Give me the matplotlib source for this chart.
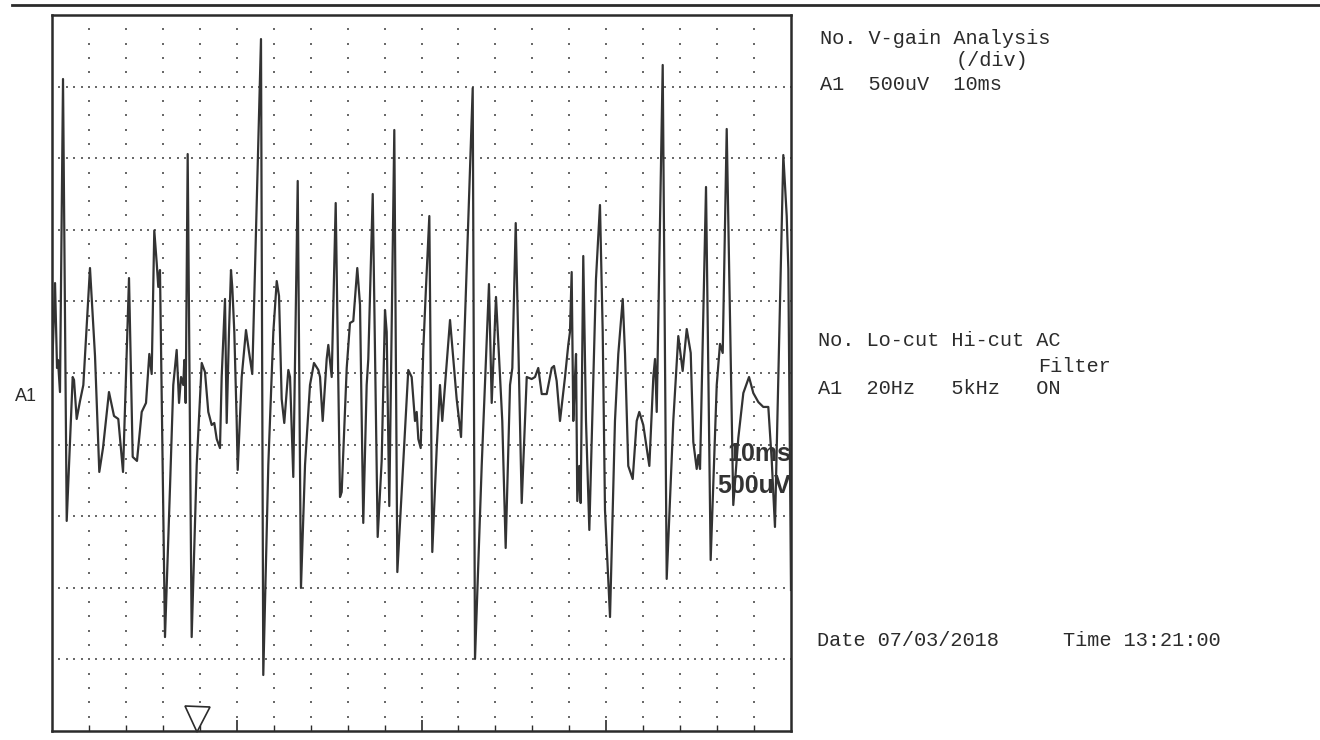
import numpy as np
import matplotlib
matplotlib.use("Agg")
import matplotlib.pyplot as plt
from matplotlib.lines import Line2D

# EMG trace A1, 10 ms/div horizontally (screen = 100 ms), 500 uV/div vertically
t_ms = [
    0.00, 0.41, 0.68, 0.81, 1.08, 1.49, 1.99, 2.80, 2.98, 3.34,
    3.79, 4.24, 5.14, 5.82, 6.40, 6.90, 7.71, 8.39, 8.97, 9.61,
    10.42, 10.92, 11.50, 12.14, 12.72, 13.17, 13.49, 13.84, 14.17, 14.38,
    14.61, 15.29, 15.97, 16.41, 16.87, 17.19, 17.46, 17.77, 17.90, 18.09,
    18.36, 18.90, 19.58, 20.26, 20.70, 21.15, 21.61, 21.96, 22.29, 22.73,
    22.96, 23.41, 23.64, 23.95, 24.22, 24.40, 24.67, 24.99, 25.13, 25.67,
    26.25, 26.66, 27.10, 28.28, 28.59, 29.27, 29.95, 30.41, 30.72, 31.08,
    31.43, 31.98, 32.21, 32.65, 33.25, 33.69, 34.24, 34.91, 35.45, 36.04,
    36.27, 36.63, 37.17, 37.39, 37.85, 38.39, 38.97, 39.20, 39.88, 40.32,
    40.77, 41.31, 41.68, 42.12, 42.58, 42.80, 43.40, 44.07, 44.61, 45.06,
    45.29, 45.64, 46.32, 46.73, 47.54, 48.21, 48.67, 49.12, 49.35, 49.57,
    49.89, 50.24, 50.61, 51.06, 51.46, 52.06, 52.50, 52.81, 53.86, 54.76,
    55.35, 56.93, 57.24, 58.15, 59.13, 59.50, 60.08, 60.93, 61.39, 61.98,
    62.29, 62.75, 63.56, 64.24, 64.91, 65.36, 65.80, 66.27, 66.94, 67.62,
    67.93, 68.29, 68.74, 69.42, 69.86, 70.09, 70.32, 70.54, 70.77, 70.91,
    71.08, 71.35, 71.54, 71.89, 72.26, 72.71, 73.61, 74.15, 74.52, 74.83,
    75.51, 76.18, 76.63, 77.23, 77.54, 77.98, 78.58, 79.12, 79.47, 80.01,
    80.83, 81.37, 81.60, 81.83, 82.64, 83.18, 84.07, 84.75, 85.34, 85.89,
    86.43, 86.78, 87.24, 87.46, 87.69, 88.50, 89.13, 89.95, 90.39, 90.76,
    91.30, 92.19, 92.87, 93.55, 94.32, 94.90, 95.58, 96.25, 96.93, 97.39,
    97.83, 98.96, 99.42, 99.64, 99.86, 100.0,
]
v_uv = [
    7, 628, 35, 91, -133, 2053, -1033, -28, -49, -321,
    -196, -84, 733, 119, -691, -524, -133, -300, -321, -691,
    663, -586, -614, -272, -209, 133, -7, 995, 768, 601,
    719, -1844, -796, -84, 161, -209, -28, -84, 91, -209,
    1529, -1844, -642, 70, 7, -272, -363, -349, -461, -524,
    -28, 517, -349, 286, 719, 594, 286, -335, -677, -28,
    300, 147, -7, 2332, -2109, -642, 286, 642, 538, -182,
    -349, 21, -28, -726, 1341, -1501, -642, -84, 70, 21,
    -28, -335, 98, 196, -28, 1187, -866, -831, 35, 349,
    363, 733, 475, -1047, -84, 98, 1250, -1145, -614, 440,
    286, -929, 1697, -1390, -614, 21, -28, -335, -272, -461,
    -524, 161, 601, 1096, -1250, -524, -84, -335, 370, -182,
    -447, 1990, -1997, -642, 621, -209, 531, -335, -1222, -84,
    35, 1047, -908, -28, -42, -28, 35, -147, -147, 35,
    49, -56, -335, -28, 196, 286, 705, -335, -28, 133,
    -894, -649, -908, 817, -335, -1096, 656, 1173, 286, -957,
    -1704, -335, 133, 517, 133, -649, -740, -335, -272, -363,
    -649, -28, 98, -272, 2151, -1438, -335, 258, 14, 307,
    140, -482, -670, -573, -670, 1299, -1306, -84, 203, 140,
    1704, -922, -454, -140, -28, -140, -203, -237, -237, -608,
    -1075, 1522, 1096, 726, -608, -1515,
]

trigger_ms = 19.6
header_rows = ["No. V-gain Analysis", "A1  500uV  10ms"]
filter_rows = ["No. Lo-cut Hi-cut AC", "A1  20Hz   5kHz   ON"]
date_str = "Date 07/03/2018"
time_str = "Time 13:21:00"

ink = "#2b2b2b"
mono = ["Liberation Mono", "DejaVu Sans Mono"]

fig = plt.figure(figsize=(13.2, 7.4), dpi=100)
W, H = 1320, 740

def fx(px):
    return px / W

def fy(py):
    return 1 - py / H

ax = fig.add_axes([fx(52), fy(731), fx(791) - fx(52), fy(15) - fy(731)])
ax.set_xlim(0, 100)
ax.set_ylim(-2500, 2500)

# dotted grid: horizontal lines every division, dot columns every half division
gx, gy = np.meshgrid(np.arange(0, 101, 1.0), np.arange(-2000, 2001, 500))
ax.scatter(gx.ravel(), gy.ravel(), s=3, marker="s", c="#6a6a6a", linewidths=0, zorder=1)
cx, cy = np.meshgrid(np.arange(5, 100, 5), np.arange(-2400, 2401, 100))
ax.scatter(cx.ravel(), cy.ravel(), s=3, marker="s", c="#6a6a6a", linewidths=0, zorder=1)

ax.plot(t_ms, v_uv, color="#333333", lw=1.6, zorder=3, solid_joinstyle="round")

# trigger marker
ax.plot([trigger_ms], [-2416], marker="v", markersize=18, mfc="white",
        mec=ink, mew=1.2, clip_on=False, zorder=4)

ax.set_xticks(np.arange(25, 100, 25))
ax.set_xticks(np.arange(5, 100, 5), minor=True)
ax.set_yticks([])
ax.tick_params(axis="x", which="major", direction="in", length=8, width=1.2,
               color=ink, labelbottom=False)
ax.tick_params(axis="x", which="minor", direction="in", length=4, width=1.0, color=ink)
for s in ax.spines.values():
    s.set_linewidth(1.8)
    s.set_color(ink)

ax.text(1.0, 0.387, "10ms", transform=ax.transAxes, ha="right", va="center",
        fontsize=18, fontweight="bold", family=["Liberation Sans", "DejaVu Sans"],
        color="#333333", zorder=5)
ax.text(1.0, 0.342, "500uV", transform=ax.transAxes, ha="right", va="center",
        fontsize=18, fontweight="bold", family=["Liberation Sans", "DejaVu Sans"],
        color="#333333", zorder=5)

fig.text(fx(15), fy(397), "A1", ha="left", va="center", fontsize=13,
         family=["Liberation Sans", "DejaVu Sans"], color=ink)

# top rule of the printout
fig.add_artist(Line2D([fx(12), fx(1320)], [fy(5), fy(5)], color=ink, lw=2))

fs = 14.6
fig.text(fx(820), fy(38), header_rows[0], family=mono, fontsize=fs, va="center", color=ink)
fig.text(fx(956), fy(61), "(/div)", family=mono, fontsize=fs, va="center", color=ink)
fig.text(fx(820), fy(85), header_rows[1], family=mono, fontsize=fs, va="center", color=ink)

fig.text(fx(818), fy(340), filter_rows[0], family=mono, fontsize=fs, va="center", color=ink)
fig.text(fx(1038), fy(366), "Filter", family=mono, fontsize=fs, va="center", color=ink)
fig.text(fx(818), fy(388), filter_rows[1], family=mono, fontsize=fs, va="center", color=ink)

fig.text(fx(817), fy(641), date_str, family=mono, fontsize=fs, va="center", color=ink)
fig.text(fx(1063), fy(641), time_str, family=mono, fontsize=fs, va="center", color=ink)

fig.savefig("out.png", dpi=100, facecolor="white")
